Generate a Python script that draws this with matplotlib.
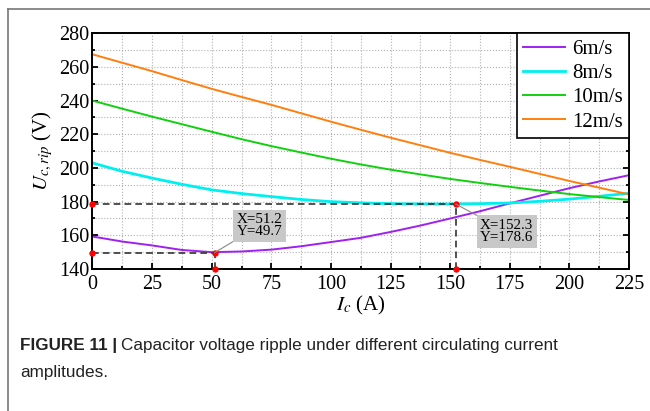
import matplotlib
matplotlib.use("Agg")
import matplotlib.pyplot as plt
from matplotlib.lines import Line2D
from matplotlib.ticker import MultipleLocator

# %% Data
ic = [0, 12.5, 25, 37.5, 50, 62.5, 75, 87.5, 100, 112.5, 125, 137.5,
      150, 162.5, 175, 187.5, 200, 212.5, 225]
u_6 = [159.3, 156.3, 154.0, 151.3, 150.0, 150.4, 151.5, 153.5, 156.0, 158.5,
       162.0, 165.8, 170.0, 174.3, 179.0, 183.5, 188.0, 192.0, 195.7]
u_8 = [203.0, 198.0, 194.0, 190.3, 187.0, 184.8, 183.0, 181.3, 180.0, 179.3,
       178.8, 178.6, 178.6, 178.8, 179.2, 180.2, 181.5, 183.2, 185.0]
u_10 = [240.0, 235.2, 230.5, 226.0, 221.5, 217.1, 213.0, 209.2, 205.5, 202.1,
        199.0, 196.2, 193.5, 191.1, 188.8, 186.6, 184.5, 182.7, 181.0]
u_12 = [267.5, 262.5, 257.5, 252.2, 247.0, 242.2, 237.5, 232.5, 227.5, 222.7,
        218.0, 213.5, 209.0, 204.8, 200.7, 196.5, 192.3, 188.3, 184.3]
labels = ["6m/s", "8m/s", "10m/s", "12m/s"]
colors = ["#a020f0", "#00f0f0", "#10d010", "#ff7f0e"]

# marked points (x, y, annotation text)
marks = [(51.2, 149.7, "X=51.2\nY=49.7"), (152.3, 178.6, "X=152.3\nY=178.6")]
box_pos = [(70.0, 165.7), (173.7, 162.3)]

# %% Plot
plt.rcParams["font.family"] = ["Liberation Serif", "DejaVu Serif"]
plt.rcParams["mathtext.fontset"] = "stix"

fig = plt.figure(figsize=(6.5, 4.11), dpi=100)
ax = fig.add_axes([0.1423, 0.3455, 0.8254, 0.5735])

for y, lab, c in zip([u_6, u_8, u_10, u_12], labels, colors):
    lw = 2.0 if lab == "8m/s" else 1.4
    ax.plot(ic, y, color=c, lw=lw, label=lab)

for (mx, my, txt), (bx, by) in zip(marks, box_pos):
    ax.plot([0, mx], [my, my], color="#333333", ls=(0, (4, 2.5)), lw=1.2, zorder=4)
    ax.plot([mx, mx], [140, my], color="#333333", ls=(0, (4, 2.5)), lw=1.2, zorder=4)
    ax.plot([0, mx, mx], [my, my, 140], "o", color="red", ms=3.6, zorder=6, clip_on=False)
    ax.annotate(txt, xy=(mx, my), xytext=(bx, by), ha="center", va="center",
                fontsize=10.8, linespacing=0.95,
                bbox=dict(boxstyle="square,pad=0.22", fc="#c8c8c8", ec="none"),
                arrowprops=dict(arrowstyle="-", color="#888888", lw=0.8,
                                shrinkA=0, shrinkB=0), zorder=7)

ax.set_xlim(0, 225)
ax.set_ylim(140, 280)
ax.xaxis.set_major_locator(MultipleLocator(25))
ax.xaxis.set_minor_locator(MultipleLocator(12.5))
ax.yaxis.set_major_locator(MultipleLocator(20))
ax.yaxis.set_minor_locator(MultipleLocator(10))
ax.tick_params(which="both", direction="in", right=True, top=False, labelsize=14.5, width=1.3)
ax.tick_params(which="major", length=4)
ax.tick_params(which="minor", length=2.5)
ax.tick_params(axis="x", pad=4)
ax.tick_params(axis="y", pad=2)
ax.grid(True, which="both", color="#b0b0b0", ls=":", lw=0.8)
for s in ax.spines.values():
    s.set_linewidth(1.4)

ax.set_xlabel(r"$I_c$ (A)", fontsize=15, labelpad=0)
ax.set_ylabel(r"$U_{c,rip}$ (V)", fontsize=15, labelpad=3)

leg = ax.legend(loc="upper right", fontsize=15, frameon=True, fancybox=False,
                edgecolor="black", framealpha=1, borderaxespad=0, handlelength=2.0,
                handletextpad=0.35, labelspacing=0.22, borderpad=0.3)
leg.get_frame().set_linewidth(1.2)

# outer frame lines of the figure panel
fig.add_artist(Line2D([8 / 650, 8 / 650], [0, 1 - 9 / 411], color="#777777", lw=1.2))
fig.add_artist(Line2D([8 / 650, 1], [1 - 9 / 411, 1 - 9 / 411], color="#777777", lw=1.2))

# caption
cap_font = ["Liberation Sans", "DejaVu Sans"]
t1 = fig.text(20 / 650, 1 - 345 / 411, "FIGURE 11 |", fontsize=12.3, fontweight="bold",
              family=cap_font, va="center", color="#222222")
fig.canvas.draw()
bb = t1.get_window_extent()
fig.text(bb.x1 / 650 + 4 / 650, 1 - 345 / 411,
         "Capacitor voltage ripple under different circulating current",
         fontsize=12.3, family=cap_font, va="center", color="#222222")
fig.text(20 / 650, 1 - 372 / 411, "amplitudes.", fontsize=12.3,
         family=cap_font, va="center", color="#222222")

fig.savefig("out.png", dpi=100)
